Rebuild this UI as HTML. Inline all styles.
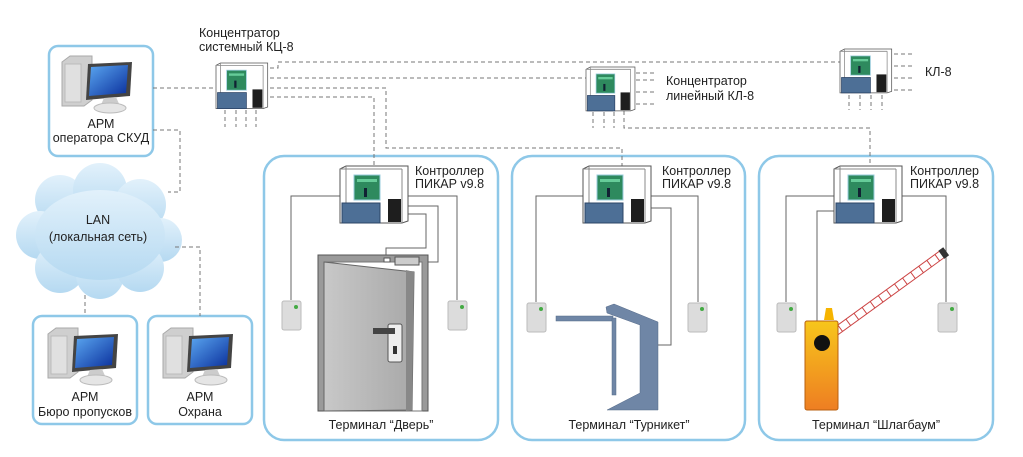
<!DOCTYPE html>
<html><head><meta charset="utf-8"><style>
html,body{margin:0;padding:0;background:#fff;}
svg{display:block;}
text{font-family:"Liberation Sans",sans-serif;font-size:12.5px;fill:#222;}
</style></head><body>
<svg width="1023" height="457" viewBox="0 0 1023 457" xmlns="http://www.w3.org/2000/svg">
<defs>
<linearGradient id="cl" x1="0" y1="0" x2="0" y2="1"><stop offset="0" stop-color="#e2f1fb"/><stop offset="1" stop-color="#b5d9f1"/></linearGradient>
<linearGradient id="scr" x1="0" y1="0" x2="1" y2="1"><stop offset="0" stop-color="#5aa6f0"/><stop offset="1" stop-color="#0a2f9c"/></linearGradient>
<linearGradient id="door" x1="0" y1="0" x2="1" y2="0"><stop offset="0" stop-color="#c8c8c8"/><stop offset="1" stop-color="#a8a8a8"/></linearGradient>
<linearGradient id="bar" x1="0" y1="0" x2="0" y2="1"><stop offset="0" stop-color="#f7c61b"/><stop offset="1" stop-color="#ee7e22"/></linearGradient>
<g id="dev">
<polygon points="0,3 6,0 68,0 68,55 62,57 0,57" fill="#fff" stroke="#555" stroke-width="1"/>
<line x1="6" y1="0" x2="6" y2="53" stroke="#888"/>
<line x1="62" y1="3" x2="62" y2="57" stroke="#888"/>
<line x1="0" y1="3" x2="62" y2="3" stroke="#888"/>
<rect x="14" y="9" width="26" height="25" fill="#2e8a5e" stroke="#9cd" stroke-width="1"/>
<rect x="17" y="13" width="20" height="3" fill="#6c9"/><rect x="24" y="22" width="3" height="9" fill="#123"/>
<rect x="2" y="37" width="38" height="20" fill="#4d6f96" stroke="#2c4466"/>
<rect x="48" y="33" width="13" height="23" fill="#1e1e1e"/>
</g>
<g id="pc">
<polygon points="0,6 8,0 30,0 30,44 22,50 0,50" fill="#cfcfcf" stroke="#aaa"/>
<rect x="3" y="8" width="16" height="38" fill="#e0e0e0" stroke="#bbb"/>
<polygon points="26,8 70,6 68,40 24,44" fill="#444"/>
<polygon points="29,11 66,9 64,37 27,40" fill="url(#scr)"/>
<polygon points="42,42 54,41 58,50 38,51" fill="#ccc"/>
<ellipse cx="48" cy="52" rx="16" ry="5" fill="#e5e5e5" stroke="#bbb"/>
</g>
<g id="rd">
<rect x="0" y="0" width="19" height="29" rx="2" fill="#dcdcdc" stroke="#bbb"/>
<circle cx="14" cy="6" r="2" fill="#4a4"/>
</g>
</defs>

<g fill="#fff" stroke="#8ec8e8" stroke-width="2.5">
<rect x="49" y="46" width="104" height="110" rx="9"/>
<rect x="33" y="316" width="104" height="108" rx="9"/>
<rect x="148" y="316" width="104" height="108" rx="9"/>
<rect x="264" y="156" width="234" height="284" rx="20"/>
<rect x="512" y="156" width="233" height="284" rx="20"/>
<rect x="759" y="156" width="234" height="284" rx="20"/>
</g>

<g fill="url(#cl)">
<circle cx="60" cy="200" r="25"/><circle cx="100" cy="190" r="27"/><circle cx="140" cy="205" r="26"/>
<circle cx="40" cy="235" r="24"/><circle cx="160" cy="240" r="22"/><circle cx="60" cy="268" r="25"/>
<circle cx="100" cy="275" r="24"/><circle cx="140" cy="268" r="24"/><ellipse cx="100" cy="235" rx="65" ry="45"/>
</g>

<g fill="none" stroke="#777" stroke-width="1" stroke-dasharray="4,3">
<path d="M153 88H216"/>
<path d="M153 130H180V192H168"/>
<path d="M175 247H200V316"/>
<path d="M85 295V316"/>
<path d="M270 68H278V62H840"/>
<path d="M270 78H586"/>
<path d="M270 88H386V148H622V166"/>
<path d="M270 97H374V166"/>
<path d="M624 111V128H870V166"/>
<path d="M225 110V127M236 110V127M246 110V127M256 110V127"/>
<path d="M636 73H657M636 80H657M636 92H657M636 104H657"/>
<path d="M593 112V128M604 112V128M614 112V128"/>
<path d="M894 54H912M894 66H912M894 78H912M894 90H912"/>
<path d="M849 95V110M860 95V110M871 95V110M882 95V110"/>
</g>

<g fill="none" stroke="#666" stroke-width="1">
<path d="M340 196H291V300"/><path d="M407 196H457V300"/>
<path d="M407 206H438V262H428"/><path d="M407 214H426V248H386V258"/>
<path d="M583 196H536V302"/><path d="M650 196H698V302"/><path d="M650 208H671V345H652"/>
<path d="M834 196H786V302"/><path d="M900 196H946V302"/><path d="M834 211H817V322"/>
</g>

<use href="#dev" transform="translate(216,63) scale(0.76,0.8)"/>
<use href="#dev" transform="translate(586,67) scale(0.72,0.77)"/>
<use href="#dev" transform="translate(840,49) scale(0.76,0.77)"/>
<use href="#dev" transform="translate(340,166)"/>
<use href="#dev" transform="translate(583,166)"/>
<use href="#dev" transform="translate(834,166)"/>

<use href="#pc" transform="translate(62,56)"/>
<use href="#pc" transform="translate(48,328)"/>
<use href="#pc" transform="translate(163,328)"/>

<use href="#rd" transform="translate(282,301)"/>
<use href="#rd" transform="translate(448,301)"/>
<use href="#rd" transform="translate(527,303)"/>
<use href="#rd" transform="translate(688,303)"/>
<use href="#rd" transform="translate(777,303)"/>
<use href="#rd" transform="translate(938,303)"/>

<rect x="318" y="255" width="110" height="156" fill="#9a9a9a" stroke="#555"/>
<rect x="324" y="262" width="98" height="149" fill="#fff" stroke="#777"/>
<polygon points="324,262 414,272 412,410 324,411" fill="url(#door)" stroke="#666"/>
<polygon points="406,270 414,272 412,410 406,411" fill="#888"/>
<rect x="395" y="257" width="24" height="8" fill="#ccc" stroke="#555"/>
<rect x="384" y="258" width="6" height="4" fill="#fff" stroke="#555"/>
<rect x="388" y="324" width="14" height="38" rx="2" fill="#eee" stroke="#555"/>
<rect x="373" y="328" width="22" height="6" fill="#444"/>
<rect x="393" y="346" width="4" height="8" fill="#333"/>

<g fill="#6f86a6" stroke="#556a88" stroke-width="0.5">
<rect x="556" y="316" width="57" height="5"/>
<rect x="612" y="318" width="4" height="77"/>
<polygon points="606,307 614,304 658,322 658,410 607,410 640,393 640,325 607,313"/>
</g>

<g transform="rotate(-36 824 340)">
<rect x="824" y="336" width="150" height="8" fill="#fff" stroke="#c44" stroke-width="1"/>
<path d="M834 336v8M844 336v8M854 336v8M864 336v8M874 336v8M884 336v8M894 336v8M904 336v8M914 336v8M924 336v8M934 336v8M944 336v8M954 336v8M964 336v8" stroke="#c44"/>
<rect x="969" y="335" width="6" height="10" fill="#333"/>
</g>
<polygon points="824,320 826,308 832,308 834,320" fill="#f6b400"/>
<rect x="805" y="321" width="33" height="89" rx="2" fill="url(#bar)" stroke="#b86010"/>
<circle cx="822" cy="343" r="8" fill="#111"/>

<text x="199" y="37">Концентратор</text>
<text x="199" y="51">системный КЦ-8</text>
<text x="666" y="85">Концентратор</text>
<text x="666" y="100">линейный КЛ-8</text>
<text x="925" y="76">КЛ-8</text>
<text x="415" y="175">Контроллер</text><text x="415" y="188">ПИКАР v9.8</text>
<text x="662" y="175">Контроллер</text><text x="662" y="188">ПИКАР v9.8</text>
<text x="910" y="175">Контроллер</text><text x="910" y="188">ПИКАР v9.8</text>
<g text-anchor="middle">
<text x="101" y="128">АРМ</text><text x="101" y="142">оператора СКУД</text>
<text x="98" y="224" font-size="13">LAN</text><text x="98" y="241">(локальная сеть)</text>
<text x="85" y="401">АРМ</text><text x="85" y="416">Бюро пропусков</text>
<text x="200" y="401">АРМ</text><text x="200" y="416">Охрана</text>
<text x="381" y="429">Терминал “Дверь”</text>
<text x="629" y="429">Терминал “Турникет”</text>
<text x="876" y="429">Терминал “Шлагбаум”</text>
</g>
</svg>
</body></html>
